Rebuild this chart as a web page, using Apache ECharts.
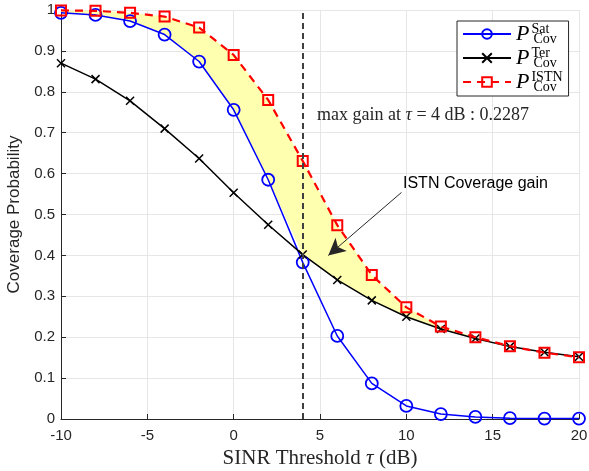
<!DOCTYPE html>
<html>
<head>
<meta charset="utf-8">
<script src="https://cdn.jsdelivr.net/npm/echarts@6/dist/echarts.min.js"></script>
<style>
html,body{margin:0;padding:0;background:#fff;overflow:hidden;}
#chart{width:589px;height:471px;}
</style>
</head>
<body>
<div id="chart"></div>
<script>
// ---- data ----
var tau  = [-10, -8, -6, -4, -2, 0, 2, 4, 6, 8, 10, 12, 14, 16, 18, 20];
var sat  = [0.993, 0.988, 0.973, 0.940, 0.874, 0.756, 0.585, 0.383, 0.203, 0.087, 0.032, 0.012, 0.005, 0.002, 0.001, 0.001];
var ter  = [0.870, 0.831, 0.778, 0.710, 0.637, 0.553, 0.475, 0.402, 0.340, 0.290, 0.250, 0.220, 0.197, 0.177, 0.163, 0.152];
var istn = [0.999, 0.998, 0.993, 0.984, 0.957, 0.890, 0.780, 0.631, 0.474, 0.352, 0.273, 0.226, 0.200, 0.178, 0.162, 0.151];
var xTicks = [-10, -5, 0, 5, 10, 15, 20];
var yTicks = [0, 0.1, 0.2, 0.3, 0.4, 0.5, 0.6, 0.7, 0.8, 0.9, 1];
var maxGainTau = 4;
var maxGainVal = 0.2287;
var legendSup = {'Sat': 'Sat', 'Ter': 'Ter', 'ISTN': 'ISTN'};

function pairs(ys){ return tau.map(function(t,i){ return [t, ys[i]]; }); }
var lower = tau.map(function(t,i){ return Math.max(sat[i], ter[i]); });

var chart = echarts.init(document.getElementById('chart'), null, {renderer:'canvas'});
var axisTxt = '#262626';
var serif = '"Liberation Serif", "DejaVu Serif", serif';
var sans = '"Liberation Sans", Arial, Helvetica, sans-serif';

// the yellow gain band: ISTN curve forward, max(Sat,Ter) backward
var bandData = tau.map(function(t,i){ return [t, istn[i], lower[i]]; });

var option = {
  animation: false,
  backgroundColor: '#ffffff',
  grid: {left: 61, right: 10, top: 10, bottom: 52, containLabel: false, outerBoundsMode: 'none'},
  xAxis: {
    type: 'value', min: -10, max: 20, interval: 5,
    name: '{a|SINR Threshold }{t|τ}{a| (dB)}',
    nameLocation: 'middle', nameGap: 28,
    nameTextStyle: {rich: {
      a: {fontFamily: serif, fontSize: 21, color: axisTxt},
      t: {fontFamily: serif, fontSize: 21, fontStyle: 'italic', color: axisTxt}
    }},
    axisLine: {show: true, onZero: false, lineStyle: {color: '#262626', width: 1}},
    axisTick: {show: true, inside: true, length: 5, lineStyle: {color: '#262626'}},
    axisLabel: {color: axisTxt, fontFamily: sans, fontSize: 15, margin: 9,
      formatter: function(v){ return xTicks.indexOf(v) >= 0 ? String(v) : ''; }},
    splitLine: {show: true, lineStyle: {color: '#e6e6e6', width: 1}}
  },
  yAxis: {
    type: 'value', min: 0, max: 1, interval: 0.1,
    name: 'Coverage Probability',
    nameLocation: 'middle', nameGap: 31,
    nameTextStyle: {fontFamily: sans, fontSize: 17, color: axisTxt},
    axisLine: {show: true, onZero: false, lineStyle: {color: '#262626', width: 1}},
    axisTick: {show: true, inside: true, length: 5, lineStyle: {color: '#262626'}},
    axisLabel: {color: axisTxt, fontFamily: sans, fontSize: 15, margin: 6,
      formatter: function(v){
        var r = Math.round(v*10)/10;
        if (r === 0) return '0';
        if (r === 1) return '1';
        return r.toFixed(1);
      }},
    splitLine: {show: true, lineStyle: {color: '#e6e6e6', width: 1}}
  },
  legend: {
    left: 457, top: 21,
    orient: 'vertical',
    data: ['Sat', 'Ter', 'ISTN'],
    backgroundColor: '#ffffff',
    borderColor: '#262626', borderWidth: 1,
    padding: [1, 6, 2, 5],
    itemWidth: 48, itemHeight: 12, itemGap: 0,
    formatter: function(name){
      return '{p|P}{sup|' + legendSup[name] + '}{sub|Cov}';
    },
    textStyle: {
      rich: {
        p: {fontFamily: serif, fontSize: 22, fontStyle: 'italic', color: '#000', height: 24, lineHeight: 24, verticalAlign: 'middle'},
        sup: {fontFamily: serif, fontSize: 14, color: '#000', width: 0, verticalAlign: 'top', padding: [0,0,0,2]},
        sub: {fontFamily: serif, fontSize: 14, color: '#000', verticalAlign: 'bottom', padding: [0,0,0,2]}
      }
    }
  },
  series: [
    {
      name: 'gainBand', type: 'custom', silent: true, z: 1,
      data: bandData,
      encode: {x: 0, y: [1, 2]},
      renderItem: function(params, api){
        if (params.dataIndex !== 0) return null;
        var top = [], bot = [];
        for (var i = 0; i < bandData.length; i++) {
          top.push(api.coord([bandData[i][0], bandData[i][1]]));
          bot.unshift(api.coord([bandData[i][0], bandData[i][2]]));
        }
        return {
          type: 'polygon',
          shape: {points: top.concat(bot)},
          style: {fill: '#ffffb0', stroke: null}
        };
      }
    },
    {
      name: 'Sat', type: 'line', data: pairs(sat), z: 3,
      symbol: 'circle', symbolSize: 12,
      lineStyle: {color: '#0000ff', width: 1.5},
      itemStyle: {color: 'rgba(0,0,0,0)', borderColor: '#0000ff', borderWidth: 1.8}
    },
    {
      name: 'Ter', type: 'line', data: pairs(ter), z: 3,
      symbol: 'path://M0,0L10,10M10,0L0,10', symbolSize: 8,
      lineStyle: {color: '#000000', width: 1.5},
      itemStyle: {color: 'rgba(0,0,0,0)', borderColor: '#000000', borderWidth: 1.5},
      markLine: {
        silent: true, symbol: ['none', 'none'], label: {show: false},
        lineStyle: {color: '#404040', width: 2, type: [6, 4]},
        data: [[{coord: [maxGainTau, 0]}, {coord: [maxGainTau, 1]}]]
      }
    },
    {
      name: 'ISTN', type: 'line', data: pairs(istn), z: 4,
      symbol: 'rect', symbolSize: 10,
      lineStyle: {color: '#ff0000', width: 2.2, type: [8, 6]},
      itemStyle: {color: 'rgba(0,0,0,0)', borderColor: '#ff0000', borderWidth: 2},
      markLine: {
        silent: true, symbol: ['none', 'arrow'], symbolSize: [13, 17], label: {show: false},
        lineStyle: {color: '#262626', width: 1, type: 'solid'},
        data: [[{coord: [9.72, 0.554]}, {coord: [5.48, 0.40]}]]
      }
    }
  ],
  graphic: [
    {
      type: 'text', left: 317, top: 106, z: 10,
      style: {
        text: '{a|max gain at }{t|τ}{a| = ' + maxGainTau + ' dB : ' + maxGainVal + '}',
        rich: {
          a: {fontFamily: serif, fontSize: 18, fill: '#262626'},
          t: {fontFamily: serif, fontSize: 18, fontStyle: 'italic', fill: '#262626'}
        }
      }
    },
    {
      type: 'text', left: 403, top: 176, z: 10,
      style: {text: 'ISTN Coverage gain', fontFamily: sans, fontSize: 16, fill: '#000'}
    }
  ]
};
chart.setOption(option);
</script>
</body>
</html>
